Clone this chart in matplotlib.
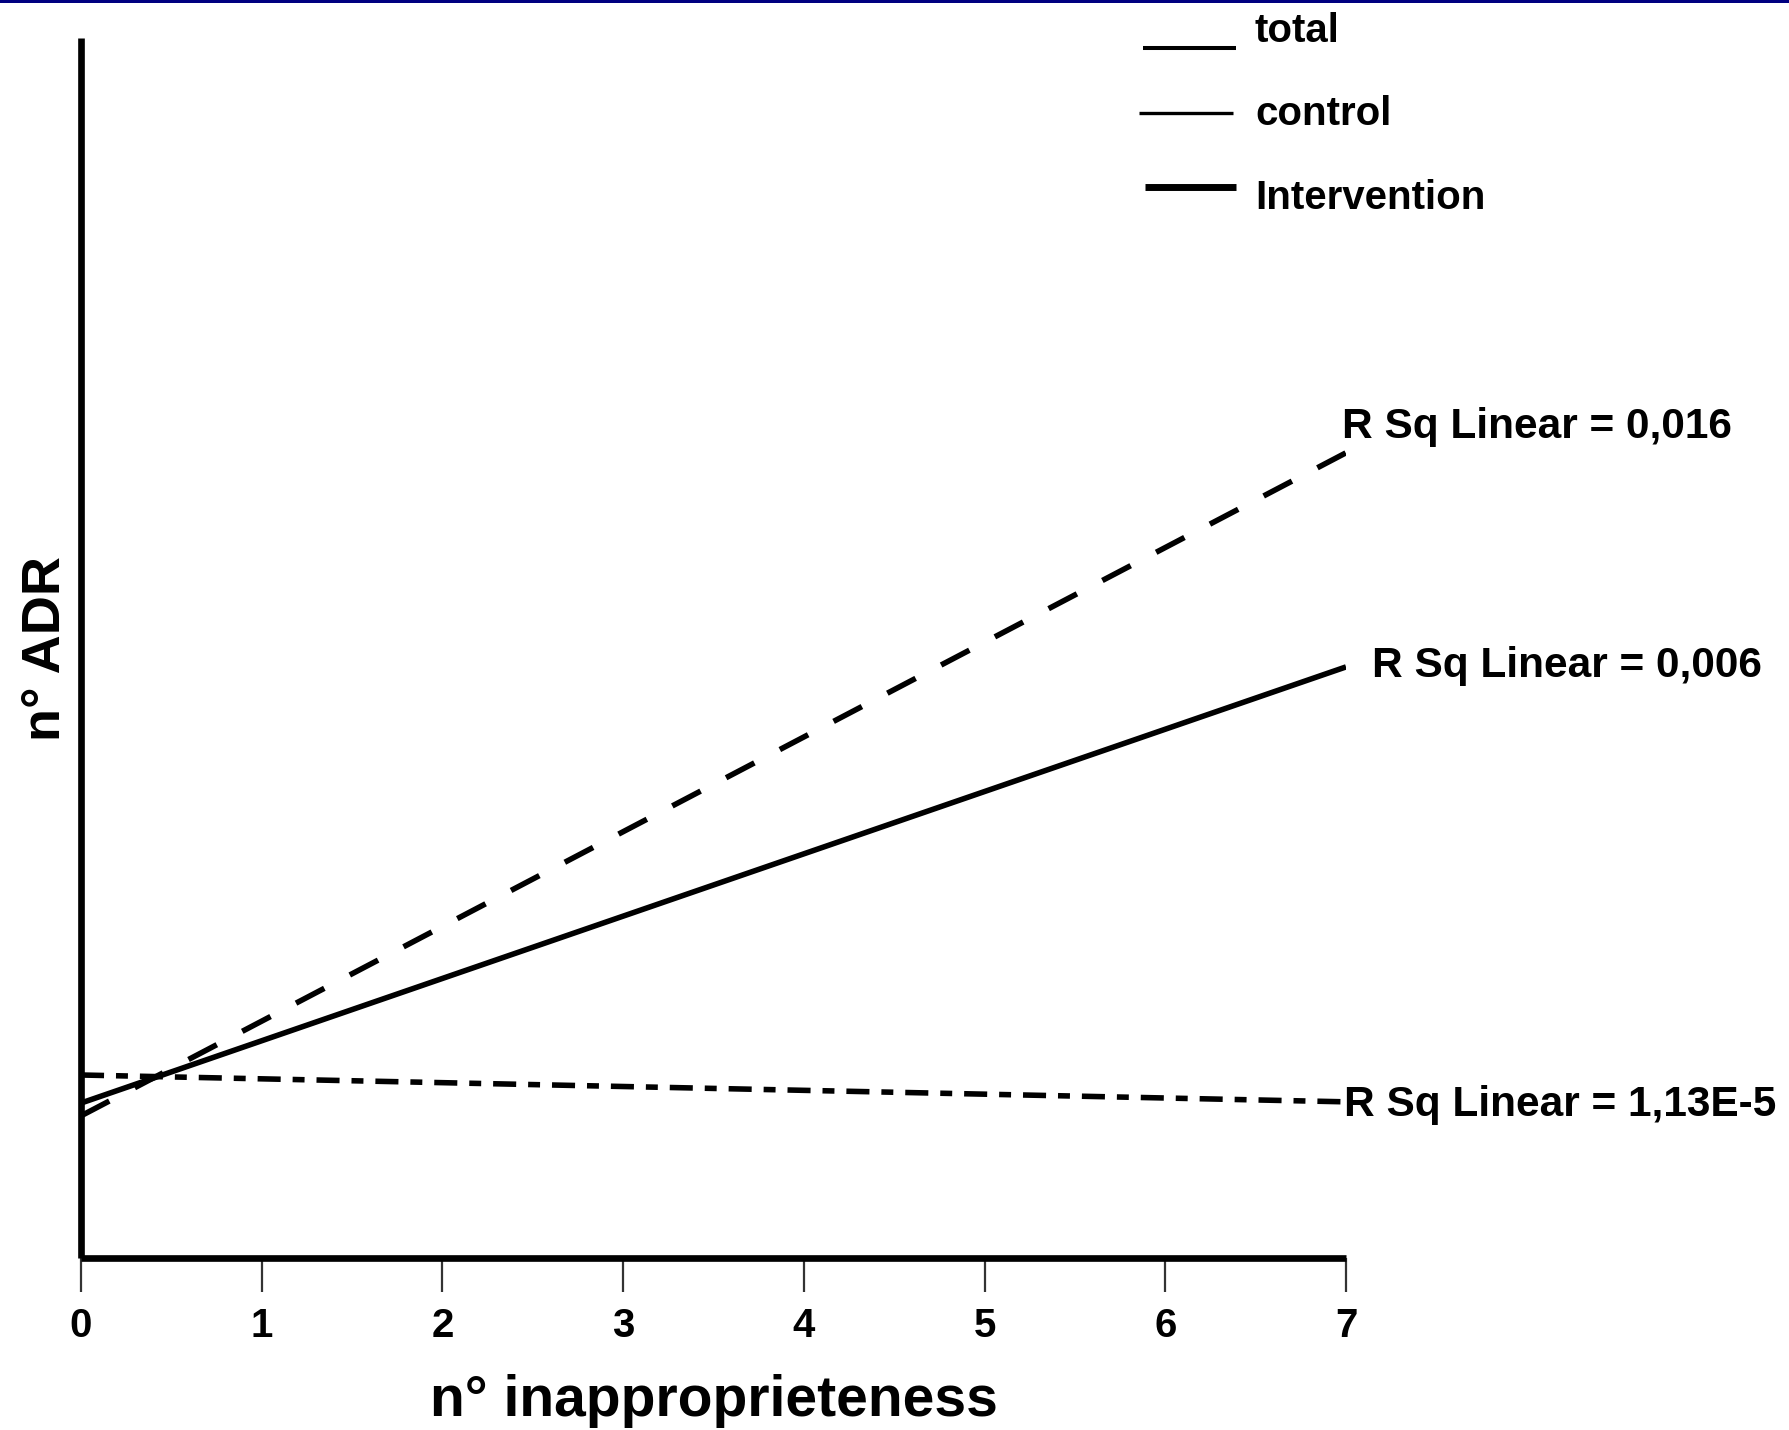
import matplotlib
matplotlib.use("Agg")
import matplotlib.pyplot as plt
from matplotlib.lines import Line2D
from matplotlib.patches import Rectangle

plt.rcParams['font.family'] = ['Liberation Sans', 'DejaVu Sans']
plt.rcParams['font.weight'] = 'bold'
plt.rcParams['lines.scale_dashes'] = False

# ---- data (fit lines: value at x = 0 and x = 7) ----
x_ends = [0, 7]
fit_dashed = [0.233, 1.320]      # R Sq Linear = 0,016
fit_solid = [0.254, 0.969]       # R Sq Linear = 0,006
fit_dashdot = [0.300, 0.256]     # R Sq Linear = 1,13E-5
x_ticks = [0, 1, 2, 3, 4, 5, 6, 7]
x_tick_labels = ['0', '1', '2', '3', '4', '5', '6', '7']
r2_labels = ['R Sq Linear = 0,016', 'R Sq Linear = 0,006', 'R Sq Linear = 1,13E-5']
legend_labels = ['total', 'control', 'Intervention']
x_label = 'n° inapproprieteness'
y_label = 'n° ADR'

W, H = 1790, 1430
fig = plt.figure(figsize=(W / 100, H / 100), dpi=100)
fig.patch.set_facecolor('white')


def fx(px):
    return px / W


def fy(py):
    return 1 - py / H


# axes placement
ax_left, ax_right, ax_top, ax_bottom = 81, 1346, 38, 1258
ax = fig.add_axes([fx(ax_left), fy(ax_bottom), fx(ax_right - ax_left), (ax_bottom - ax_top) / H])
ax.set_xlim(0, 7)
ax.set_ylim(0, 2)

lw = 4.0
ax.plot(x_ends, fit_dashed, color='black', lw=lw, linestyle=(0, (23, 20.7)),
        dash_capstyle='butt')
ax.plot(x_ends, fit_solid, color='black', lw=lw, solid_capstyle='butt')
ax.plot(x_ends, fit_dashdot, color='black', lw=lw, linestyle=(0, (16.6, 8.6, 8.6, 8.6)),
        dash_capstyle='butt')

for s in ['top', 'right']:
    ax.spines[s].set_visible(False)
for s in ['left', 'bottom']:
    ax.spines[s].set_linewidth(4.8)
    ax.spines[s].set_color('black')
    ax.spines[s].set_capstyle('butt')

ax.set_yticks([])
ax.set_xticks(x_ticks)
ax.set_xticklabels(x_tick_labels, fontsize=29, fontweight='bold')
ax.tick_params(axis='x', direction='out', length=24.5, width=1.6, color='#333333', pad=11)
ax.patch.set_alpha(0)

# axis labels
fig.text(fx((ax_left + ax_right) / 2), fy(1416), x_label, ha='center', va='baseline',
         fontsize=41, fontweight='bold')
fig.text(fx(60), fy(649), y_label, rotation=90, rotation_mode='anchor', ha='center',
         va='baseline', fontsize=39, fontweight='bold')

# R squared labels
r2_pos = [(1342, 438), (1372, 677), (1344, 1116)]
for (px, py), lab in zip(r2_pos, r2_labels):
    fig.text(fx(px), fy(py), lab, ha='left', va='baseline', fontsize=30.5, fontweight='bold')

# legend (drawn as in the reference: plain line samples + labels)
leg_lines = [((1143, 1236), 48, 2.9), ((1139, 1233), 113, 2.4), ((1145, 1236), 187, 5.0)]
leg_text_base = [42, 125, 209]
for ((x1, x2), yy, w), tb, lab in zip(leg_lines, leg_text_base, legend_labels):
    fig.add_artist(Line2D([fx(x1), fx(x2)], [fy(yy), fy(yy)], transform=fig.transFigure,
                          color='black', lw=w, solid_capstyle='butt'))
    fig.text(fx(1255), fy(tb), lab, ha='left', va='baseline', fontsize=29, fontweight='bold')

# navy band at the top
fig.add_artist(Rectangle((0, fy(3)), 1, 3 / H, transform=fig.transFigure,
                         facecolor='#000080', edgecolor='none'))

fig.savefig('out.png', dpi=100, facecolor='white')
